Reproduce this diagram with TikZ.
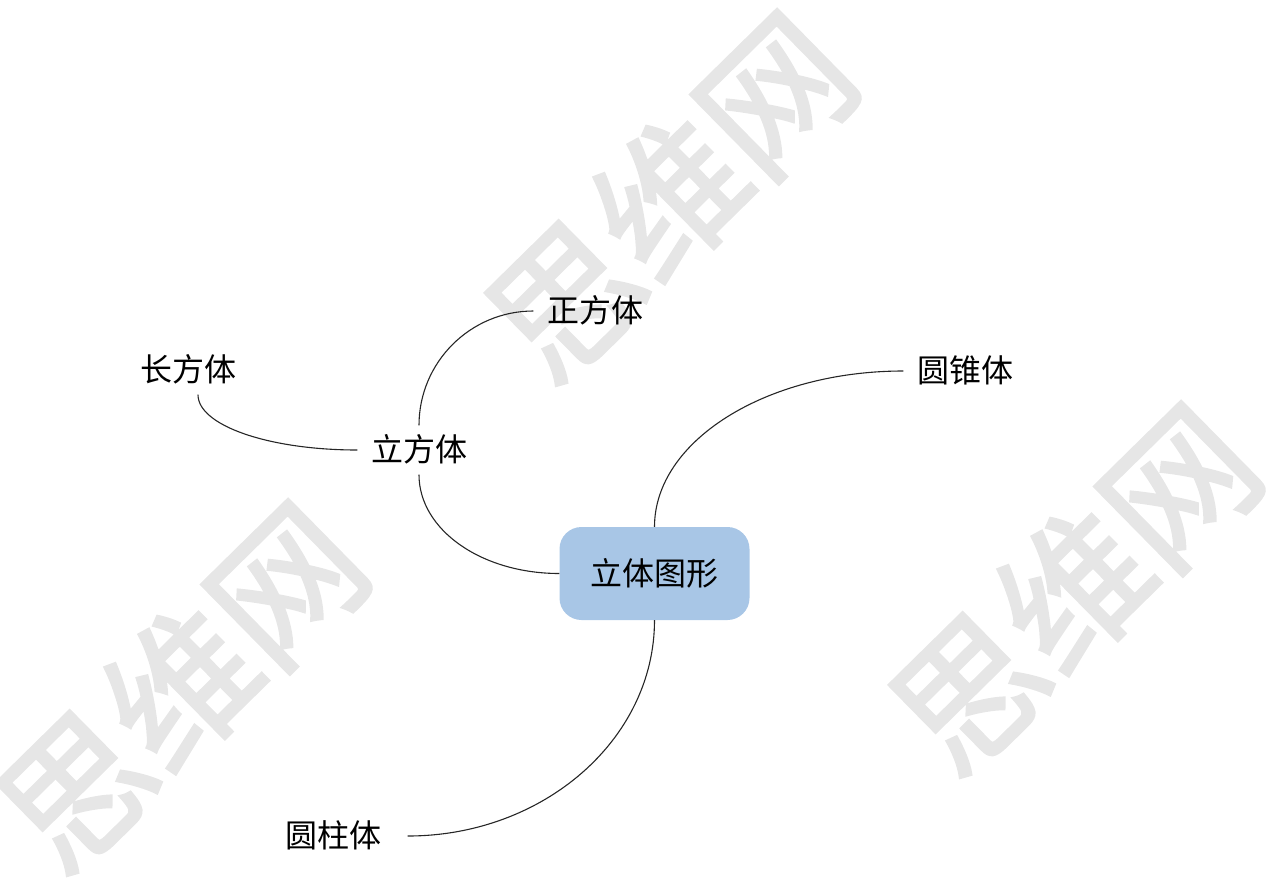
\documentclass[tikz,border=0pt]{standalone}
\usepackage{fontspec}
\setmainfont{Noto Sans CJK SC}
\newfontfamily\markfont{Noto Sans CJK SC}[FakeBold=2]
\usepackage{xcolor}
\usepackage{tikz}
\usetikzlibrary{shapes}

\definecolor{topicblue}{HTML}{A8C6E6}
\definecolor{markgray}{HTML}{E6E6E6}

\tikzset{
	topic/.style={inner xsep=13.5pt,inner ysep=8.5pt,text height=27.8pt,text depth=4.2pt,font=\fontsize{32}{32}\selectfont},
	central/.style={rectangle,rounded corners=22pt,fill=topicblue,minimum width=190pt,minimum height=93pt,inner sep=0pt,text height=27.8pt,text depth=4.2pt,font=\fontsize{32}{32}\selectfont},
	branch/.style={draw,line width=1.1pt,black!85},
	watermark/.style={rotate=44.5,inner sep=0pt,text=markgray,text height=127.9pt,text depth=19.1pt,font=\markfont\fontsize{147}{147}\selectfont}
}

\begin{document}
\begin{tikzpicture}[x=1pt,y=-1pt]
		\useasboundingbox (0,0) rectangle (1275,879);
		% watermarks
		\node[watermark] (wmA) at (671,198) {思维网};
		\node[watermark] (wmB) at (182,688) {思维网};
		\node[watermark] (wmC) at (1075,590) {思维网};
		%
		\node[central] (tuxing) at (654.5,573.5) {立体图形};
		\node[topic] (lifang) at (419,450) {立方体};
		\node[topic] (zhengfang) at (595,311) {正方体};
		\node[topic] (changfang) at (188,370) {长方体};
		\node[topic] (yuanzhui) at (965,371) {圆锥体};
		\node[topic] (yuanzhu) at (333,836) {圆柱体};
		%
		\path[branch]
		% main branches
		(tuxing.north) .. controls +(0,-86) and +(-137,0) .. (yuanzhui.west)
		(tuxing.south) .. controls +(0,119) and +(136,0) .. ([xshift=13pt]yuanzhu.east)
		(lifang.south) .. controls +(0,55) and +(-78,0) .. (tuxing.west)
		% sub branches
		(lifang.north) .. controls +(0,-63) and +(-63,0) .. (zhengfang.west)
		(lifang.west) .. controls +(-88,0) and +(0,31) .. ([xshift=10pt]changfang.south);
		\end{tikzpicture}
\end{document}
